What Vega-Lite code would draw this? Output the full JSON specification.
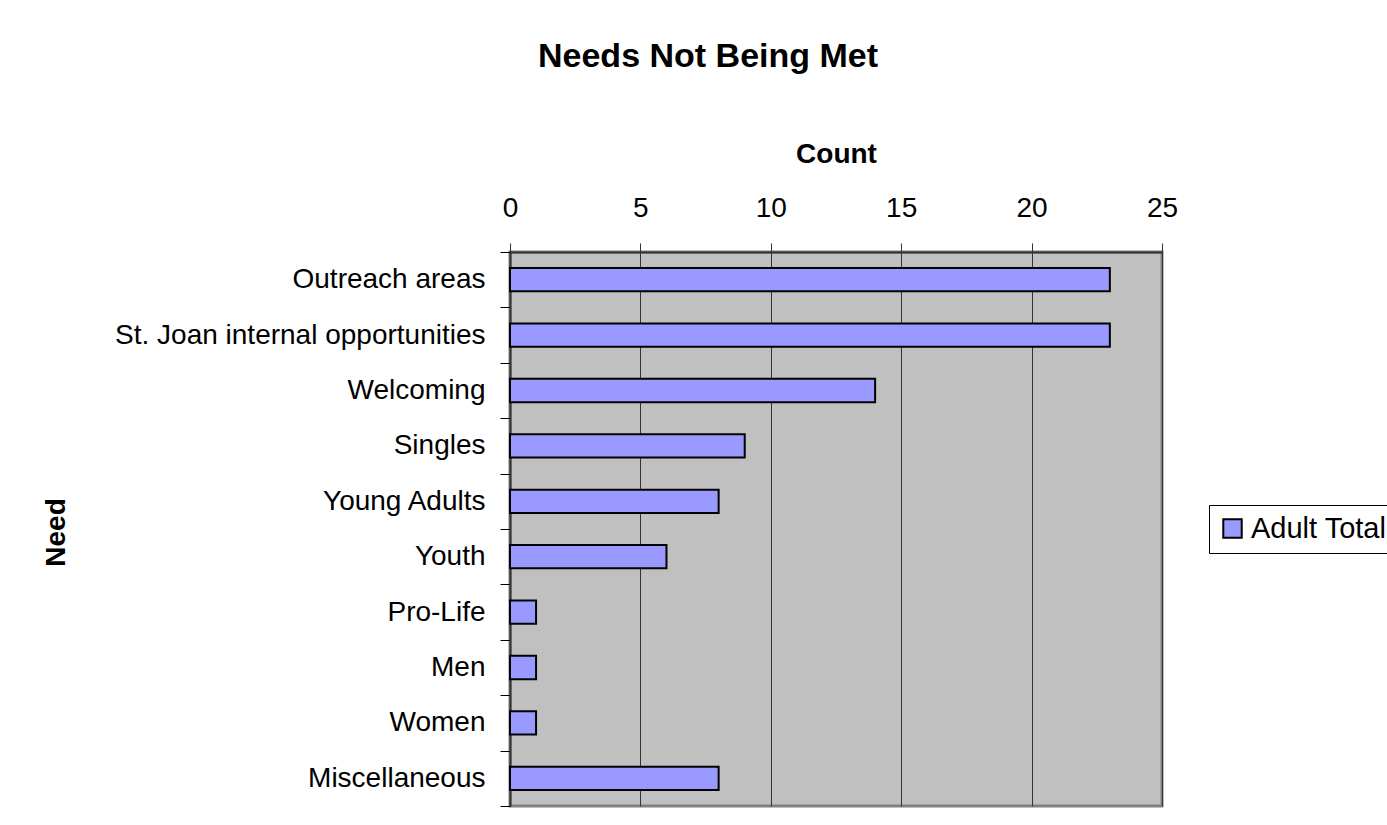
{
  "$schema": "https://vega.github.io/schema/vega-lite/v6.json",
  "autosize": "none",
  "width": 652,
  "height": 554,
  "padding": {"left": 510, "top": 252, "right": 225, "bottom": 19},
  "background": "white",
  "title": {
    "text": "Needs Not Being Met",
    "font": "Liberation Sans",
    "fontSize": 34,
    "fontWeight": "bold",
    "color": "black",
    "anchor": "middle",
    "dx": -128,
    "offset": 66
  },
  "data": {
    "values": [
      {"need": "Outreach areas", "count": 23, "series": "Adult Total"},
      {"need": "St. Joan internal opportunities", "count": 23, "series": "Adult Total"},
      {"need": "Welcoming", "count": 14, "series": "Adult Total"},
      {"need": "Singles", "count": 9, "series": "Adult Total"},
      {"need": "Young Adults", "count": 8, "series": "Adult Total"},
      {"need": "Youth", "count": 6, "series": "Adult Total"},
      {"need": "Pro-Life", "count": 1, "series": "Adult Total"},
      {"need": "Men", "count": 1, "series": "Adult Total"},
      {"need": "Women", "count": 1, "series": "Adult Total"},
      {"need": "Miscellaneous", "count": 8, "series": "Adult Total"}
    ]
  },
  "mark": {"type": "bar", "stroke": "black", "strokeWidth": 2, "cornerRadius": 0, "height": {"band": 0.42}},
  "encoding": {
    "y": {
      "field": "need",
      "type": "nominal",
      "sort": null,
      "title": "Need",
      "scale": {"paddingInner": 0, "paddingOuter": 0},
      "axis": {
        "orient": "left",
        "tickBand": "extent",
        "tickSize": 10,
        "tickColor": "black",
        "domainColor": "#333333",
        "domainWidth": 2,
        "labelFont": "Liberation Sans",
        "labelFontSize": 28,
        "labelColor": "black",
        "labelPadding": 15,
        "labelLimit": 600,
        "grid": false,
        "titleFont": "Liberation Sans",
        "titleFontSize": 28,
        "titleFontWeight": "bold",
        "titleColor": "black",
        "titleAngle": 270,
        "titleAlign": "center",
        "titleBaseline": "bottom",
        "titleX": -440,
        "titleY": 280
      }
    },
    "x": {
      "field": "count",
      "type": "quantitative",
      "title": "Count",
      "scale": {"domain": [0, 25], "nice": false},
      "axis": {
        "orient": "top",
        "values": [0, 5, 10, 15, 20, 25],
        "labelFlush": false,
        "tickSize": 9,
        "tickColor": "#333333",
        "domainColor": "#333333",
        "domainWidth": 2,
        "grid": true,
        "gridColor": "#333333",
        "gridOpacity": 1,
        "gridWidth": 1,
        "labelFont": "Liberation Sans",
        "labelFontSize": 28,
        "labelColor": "black",
        "labelPadding": 21,
        "titleFont": "Liberation Sans",
        "titleFontSize": 28,
        "titleFontWeight": "bold",
        "titleColor": "black",
        "titlePadding": 26
      }
    },
    "color": {
      "field": "series",
      "type": "nominal",
      "title": null,
      "scale": {"range": ["#9999ff"]},
      "legend": {
        "orient": "none",
        "legendX": 699,
        "legendY": 253,
        "strokeColor": "black",
        "padding": 9,
        "symbolType": "square",
        "symbolSize": 340,
        "symbolStrokeColor": "black",
        "symbolStrokeWidth": 2,
        "symbolOpacity": 1,
        "labelFont": "Liberation Sans",
        "labelFontSize": 29,
        "labelColor": "black",
        "labelLimit": 400,
        "fillColor": "white"
      }
    }
  },
  "config": {
    "view": {"fill": "#c0c0c0", "stroke": "#808080", "strokeWidth": 3}
  }
}
